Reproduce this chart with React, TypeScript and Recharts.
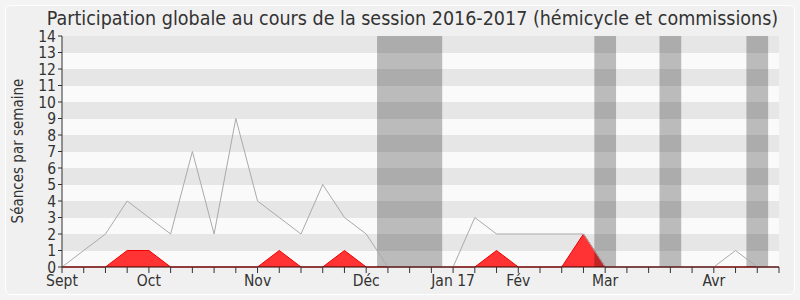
import React from 'react';
import {
  ComposedChart,
  Line,
  Area,
  XAxis,
  YAxis,
  CartesianGrid,
  ReferenceArea,
} from 'recharts';

// weeks of the session, Sept 2016 -> Apr 2017
const weeks = [
  0, 1, 2, 3, 4, 5, 6, 7, 8, 9, 10, 11, 12, 13, 14, 15, 16,
  17, 18, 19, 20, 21, 22, 23, 24, 25, 26, 27, 28, 29, 30, 31, 32, 33,
];
// all sittings per week (hemicycle + commissions)
const seances = [
  0, 1, 2, 4, 3, 2, 7, 2, 9, 4, 3, 2, 5, 3, 2, 0, 0,
  0, 0, 3, 2, 2, 2, 2, 2, 0, 0, 0, 0, 0, 0, 1, 0, 0,
];
// sittings attended
const presences = [
  0, 0, 0, 1, 1, 0, 0, 0, 0, 0, 1, 0, 0, 1, 0, 0, 0,
  0, 0, 0, 1, 0, 0, 0, 2, 0, 0, 0, 0, 0, 0, 0, 0, 0,
];

const monthTicks = [0, 4, 9, 14, 18, 21, 25, 30];
const monthLabels = ['Sept', 'Oct', 'Nov', 'Déc', 'Jan 17', 'Fév', 'Mar', 'Avr'];

// parliamentary holidays
const vacances = [
  [14.5, 17.5],
  [24.5, 25.5],
  [27.5, 28.5],
  [31.5, 32.5],
];

const yTicks = [0, 1, 2, 3, 4, 5, 6, 7, 8, 9, 10, 11, 12, 13, 14];

const FONT = '"DejaVu Sans Condensed", "DejaVu Sans", sans-serif';

export default function App() {
  const data = weeks.map((w, i) => ({
    week: w,
    seances: seances[i],
    presences: presences[i],
  }));

  const formatMonth = (v: number) => {
    const idx = monthTicks.indexOf(v);
    return idx >= 0 ? monthLabels[idx] : '';
  };

  return (
    <div
      style={{
        position: 'absolute',
        left: 0,
        top: 0,
        width: 800,
        height: 300,
        background: '#f4f4f4',
        fontFamily: FONT,
      }}
    >
      <div
        style={{
          position: 'absolute',
          left: 5,
          top: 5,
          width: 788,
          height: 288,
          border: '1px solid #ffffff',
          borderRadius: 6,
          background: '#f0f0f0',
        }}
      />
      <div
        style={{
          position: 'absolute',
          left: 0,
          top: 7,
          width: 825,
          textAlign: 'center',
          fontSize: 19.5,
          color: '#333',
          whiteSpace: 'nowrap',
        }}
      >
        Participation globale au cours de la session 2016-2017 (hémicycle et commissions)
      </div>
      <div
        style={{
          position: 'absolute',
          left: 18,
          top: 151,
          transform: 'translate(-50%, -50%) rotate(-90deg)',
          fontSize: 15,
          color: '#333',
          whiteSpace: 'nowrap',
        }}
      >
        Séances par semaine
      </div>
      <div style={{ position: 'absolute', left: 0, top: 0 }}>
        <ComposedChart
          width={800}
          height={300}
          data={data}
          margin={{ top: 36, right: 21, left: 2, bottom: 8 }}
        >
          <CartesianGrid
            vertical={false}
            stroke="none"
            horizontalFill={['#e6e6e6', '#fafafa']}
            horizontalPoints={[]}
          />
          <XAxis
            xAxisId="top"
            orientation="top"
            dataKey="week"
            type="number"
            domain={[0, 33]}
            ticks={weeks}
            height={0}
            tickSize={2}
            axisLine={false}
            tick={false}
            stroke="#222"
          />
          <XAxis
            dataKey="week"
            type="number"
            domain={[0, 33]}
            ticks={weeks}
            interval={0}
            tickFormatter={formatMonth}
            height={25}
            tickSize={6}
            axisLine={{ stroke: '#330000' }}
            tickLine={{ stroke: '#333' }}
            tick={{ fill: '#333', fontSize: 15.5, fontFamily: FONT }}
          />
          <YAxis
            type="number"
            domain={[0, 14]}
            ticks={yTicks}
            interval={0}
            width={60}
            tickSize={4}
            axisLine={{ stroke: '#333' }}
            tickLine={{ stroke: '#333' }}
            tick={{ fill: '#333', fontSize: 15.5, fontFamily: FONT }}
          />
          <Area
            type="linear"
            dataKey="presences"
            fill="#ff3333"
            fillOpacity={1}
            stroke="#ee0000"
            strokeWidth={1}
            isAnimationActive={false}
          />
          <Line
            type="linear"
            dataKey="seances"
            stroke="#aaaaaa"
            strokeWidth={1}
            dot={false}
            isAnimationActive={false}
          />
          {vacances.map(([x1, x2]) => (
            <ReferenceArea
              key={x1}
              x1={x1}
              x2={x2}
              y1={0}
              y2={14}
              fill="#000"
              fillOpacity={0.25}
              stroke="none"
              ifOverflow="hidden"
            />
          ))}
        </ComposedChart>
      </div>
    </div>
  );
}
